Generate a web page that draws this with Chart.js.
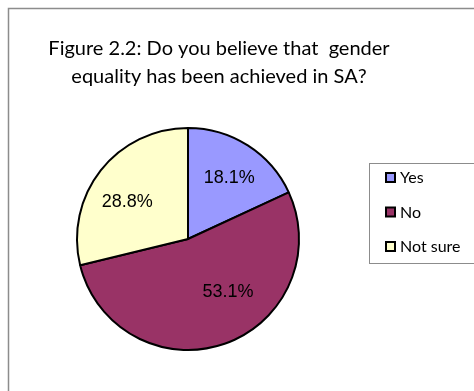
<!DOCTYPE html>
<html>
<head>
  <meta charset="utf-8">
  <title>Gender equality in SA</title>
  <script src="https://cdn.jsdelivr.net/npm/chart.js"></script>
  <style>
    html, body { margin: 0; padding: 0; background: #fff; }
    canvas { display: block; }
  </style>
</head>
<body>
  <canvas id="pieChart" width="474" height="391"></canvas>

  <script>
    const answers = ['Yes', 'No', 'Not sure'];
    const shares = [18.1, 53.1, 28.8];
    const sliceColors = ['#9999FF', '#993366', '#FFFFCC'];
    const titleLines = ['Figure 2.2: Do you believe that  gender', 'equality has been achieved in SA?'];

    const titleFont = '20px Lato, "Open Sans", sans-serif';
    const legendFont = '16px Lato, "Open Sans", sans-serif';
    const valueFont = '18px "Liberation Sans", Arial, sans-serif';

    // frame, title and legend box drawn around the pie
    const framePlugin = {
      id: 'frame',
      beforeDraw(chart) {
        const c = chart.ctx;
        c.save();
        c.fillStyle = '#fff';
        c.fillRect(0, 0, chart.width, chart.height);
        c.strokeStyle = '#8c8c8c';
        c.lineWidth = 1.5;
        c.strokeRect(8.5, 8.5, 500, 420);
        c.fillStyle = '#000';
        c.font = titleFont;
        c.textAlign = 'center';
        c.textBaseline = 'middle';
        c.fillText(titleLines[0], 219, 49);
        c.fillText(titleLines[1], 219, 77);

        // legend
        c.strokeStyle = '#8c8c8c';
        c.lineWidth = 1;
        c.strokeRect(369.5, 163.5, 120, 100);
        c.font = legendFont;
        c.textAlign = 'left';
        answers.forEach((a, i) => {
          const y = 178 + i * 34.5;
          c.fillStyle = sliceColors[i];
          c.fillRect(386, y - 5, 9, 9);
          c.strokeStyle = '#000';
          c.lineWidth = 2;
          c.strokeRect(386, y - 5, 9, 9);
          c.fillStyle = '#000';
          c.fillText(a, 400, y);
        });
        c.restore();
      },
      afterDatasetsDraw(chart, args, opts) {
        const c = chart.ctx;
        const meta = chart.getDatasetMeta(0);
        c.save();
        c.font = valueFont;
        c.fillStyle = '#000';
        c.textAlign = 'center';
        c.textBaseline = 'middle';
        meta.data.forEach((arc, i) => {
          const nudge = opts.nudge[i];
          const mid = (arc.startAngle + arc.endAngle) / 2 + nudge.da;
          const r = arc.outerRadius * nudge.rf;
          const x = arc.x + Math.cos(mid) * r;
          const y = arc.y + Math.sin(mid) * r;
          c.fillText(shares[i].toFixed(1) + '%', x, y);
        });
        c.restore();
      }
    };

    new Chart(document.getElementById('pieChart'), {
      type: 'pie',
      data: {
        labels: answers,
        datasets: [{
          data: shares,
          backgroundColor: sliceColors,
          borderColor: '#000',
          borderWidth: 2
        }]
      },
      options: {
        responsive: false,
        animation: false,
        layout: { padding: { left: 76, right: 174, top: 126, bottom: 39 } },
        plugins: {
          legend: { display: false },
          tooltip: { enabled: false },
          frame: { nudge: [ { da: 0.03, rf: 0.66 }, { da: -0.31, rf: 0.6 }, { da: -0.12, rf: 0.64 } ] }
        }
      },
      plugins: [framePlugin]
    });
  </script>
</body>
</html>
